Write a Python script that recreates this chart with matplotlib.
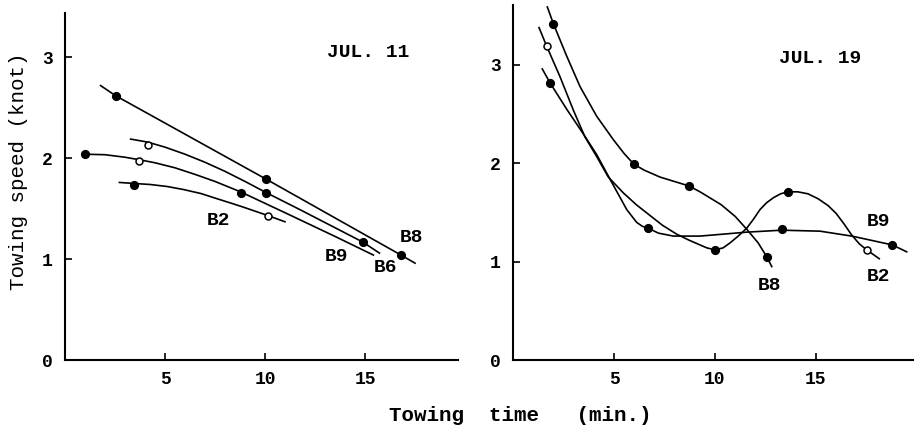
import matplotlib

matplotlib.use("Agg")
import matplotlib.pyplot as plt

plt.rcParams["font.family"] = ["Liberation Mono", "DejaVu Sans Mono"]
plt.rcParams["font.weight"] = "bold"

# ---- JUL. 11 (left panel) ----
# traced curve paths
jul11_b8_x = [1.78, 2.53, 10.08, 16.8, 17.5]
jul11_b8_y = [2.72, 2.62, 1.79, 1.04, 0.96]
jul11_b6_x = [3.28, 4.13, 5.0, 6.0, 7.0, 8.0, 9.0, 10.05, 11.75, 14.88, 15.72]
jul11_b6_y = [2.19, 2.16, 2.11, 2.04, 1.96, 1.87, 1.77, 1.66, 1.49, 1.17, 1.06]
jul11_b9_x = [1.0, 2.0, 3.0, 3.72, 4.5, 5.5, 6.5, 7.5, 8.8, 11.0, 13.5, 15.42]
jul11_b9_y = [2.04, 2.035, 2.01, 1.985, 1.955, 1.905, 1.84, 1.77, 1.665,
              1.46, 1.225, 1.04]
jul11_b2_x = [2.72, 3.45, 4.25, 5.1, 5.92, 6.8, 7.58, 8.3, 8.92, 10.17, 11.0]
jul11_b2_y = [1.76, 1.75, 1.74, 1.72, 1.69, 1.65, 1.60, 1.555, 1.515, 1.43,
              1.37]
# measured points
jul11_b8_px = [2.53, 10.05, 16.8]
jul11_b8_py = [2.62, 1.79, 1.04]
jul11_b8_open = [False, False, False]
jul11_b6_px = [4.13, 10.05, 14.88]
jul11_b6_py = [2.13, 1.66, 1.17]
jul11_b6_open = [True, False, False]
jul11_b9_px = [1.0, 3.72, 8.8]
jul11_b9_py = [2.04, 1.97, 1.66]
jul11_b9_open = [False, True, False]
jul11_b2_px = [3.45, 10.17]
jul11_b2_py = [1.73, 1.43]
jul11_b2_open = [False, True]

# ---- JUL. 19 (right panel) ----
jul19_b8_x = [1.70, 2.0, 2.66, 3.32, 4.14, 4.97, 5.5, 5.99, 6.5, 7.28, 8.71,
              9.26, 10.3, 11.0, 11.57, 12.14, 12.56, 12.81]
jul19_b8_y = [3.59, 3.42, 3.09, 2.78, 2.48, 2.24, 2.10, 1.99, 1.93, 1.86,
              1.77, 1.71, 1.58, 1.46, 1.33, 1.19, 1.05, 0.95]
jul19_b2_x = [1.29, 1.67, 2.33, 2.99, 3.56, 4.14, 4.72, 5.46, 6.1, 6.78, 7.4,
              8.10, 8.7, 9.26, 9.6, 10.0, 10.4, 10.74, 11.15, 11.57, 11.9,
              12.23, 12.56, 12.89, 13.25, 13.6, 14.1, 14.6, 15.1, 15.6, 16.0,
              16.4, 16.77, 17.15, 17.51, 18.13]
jul19_b2_y = [3.38, 3.19, 2.88, 2.54, 2.27, 2.07, 1.86, 1.70, 1.58, 1.47, 1.37,
              1.28, 1.22, 1.17, 1.14, 1.12, 1.14, 1.19, 1.26, 1.34, 1.43,
              1.53, 1.60, 1.65, 1.69, 1.71, 1.71, 1.69, 1.64, 1.57, 1.49,
              1.38, 1.27, 1.18, 1.12, 1.03]
jul19_b9_x = [1.45, 1.83, 2.66, 3.48, 4.14, 4.80, 5.63, 6.12, 6.4, 6.70, 7.2,
              7.94, 9.26, 11.57, 13.3, 15.2, 16.77, 17.67, 18.78, 19.49]
jul19_b9_y = [2.96, 2.82, 2.55, 2.30, 2.09, 1.84, 1.53, 1.40, 1.36, 1.34, 1.29,
              1.26, 1.26, 1.30, 1.32, 1.31, 1.26, 1.22, 1.17, 1.10]
jul19_b8_px = [2.0, 5.99, 8.71, 12.56]
jul19_b8_py = [3.42, 1.99, 1.77, 1.05]
jul19_b8_open = [False, False, False, False]
jul19_b2_px = [1.67, 10.0, 13.6, 17.51]
jul19_b2_py = [3.19, 1.12, 1.71, 1.12]
jul19_b2_open = [True, False, False, True]
jul19_b9_px = [1.83, 6.70, 13.3, 18.78]
jul19_b9_py = [2.82, 1.34, 1.33, 1.17]
jul19_b9_open = [False, False, False, False]

x_ticks = [5, 10, 15]
y_ticks = [0, 1, 2, 3]


def draw_series(ax, cx, cy, px, py, flags):
    ax.plot(cx, cy, color="black", linewidth=1.2, solid_joinstyle="round")
    for x, y, is_open in zip(px, py, flags):
        ax.plot([x], [y], marker="o", markersize=5.5 if not is_open else 5,
                markerfacecolor="white" if is_open else "black",
                markeredgecolor="black", markeredgewidth=1.1, zorder=5)


def style_axis(ax, xmax, ymax):
    ax.set_xlim(0, xmax)
    ax.set_ylim(0, ymax)
    for side in ("top", "right"):
        ax.spines[side].set_visible(False)
    for side in ("left", "bottom"):
        ax.spines[side].set_linewidth(1.5)
    ax.set_xticks(x_ticks)
    ax.set_yticks(y_ticks)
    ax.tick_params(direction="in", length=5, width=1.2, labelsize=13)
    ax.tick_params(axis="x", pad=8)
    ax.tick_params(axis="y", pad=9)


fig = plt.figure(figsize=(9.17, 4.37), dpi=100)
fig.patch.set_facecolor("white")

ax1 = fig.add_axes([0.0709, 0.1762, 0.4286, 0.7941])
draw_series(ax1, jul11_b8_x, jul11_b8_y, jul11_b8_px, jul11_b8_py, jul11_b8_open)
draw_series(ax1, jul11_b6_x, jul11_b6_y, jul11_b6_px, jul11_b6_py, jul11_b6_open)
draw_series(ax1, jul11_b9_x, jul11_b9_y, jul11_b9_px, jul11_b9_py, jul11_b9_open)
draw_series(ax1, jul11_b2_x, jul11_b2_y, jul11_b2_px, jul11_b2_py, jul11_b2_open)
style_axis(ax1, 19.65, 3.44)
ax1.set_ylabel("Towing speed (knot)", fontsize=15)
ax1.yaxis.set_label_coords(-0.094, 0.545)
ax1.text(15.13, 3.05, "JUL. 11", fontsize=14, ha="center", va="center")
ax1.text(7.67, 1.38, "B2", fontsize=14, ha="center", va="center")
ax1.text(13.58, 1.03, "B9", fontsize=14, ha="center", va="center")
ax1.text(16.0, 0.92, "B6", fontsize=14, ha="center", va="center")
ax1.text(17.33, 1.21, "B8", fontsize=14, ha="center", va="center")

ax2 = fig.add_axes([0.5594, 0.1762, 0.4362, 0.8124])
draw_series(ax2, jul19_b8_x, jul19_b8_y, jul19_b8_px, jul19_b8_py, jul19_b8_open)
draw_series(ax2, jul19_b2_x, jul19_b2_y, jul19_b2_px, jul19_b2_py, jul19_b2_open)
draw_series(ax2, jul19_b9_x, jul19_b9_y, jul19_b9_px, jul19_b9_py, jul19_b9_open)
style_axis(ax2, 19.8, 3.61)
ax2.text(15.2, 3.07, "JUL. 19", fontsize=14, ha="center", va="center")
ax2.text(18.08, 1.41, "B9", fontsize=14, ha="center", va="center")
ax2.text(18.08, 0.85, "B2", fontsize=14, ha="center", va="center")
ax2.text(12.72, 0.76, "B8", fontsize=14, ha="center", va="center")

fig.text(0.567, 0.05, "Towing  time   (min.)", fontsize=15,
         ha="center", va="center")

fig.savefig("out.png", dpi=100, facecolor="white")
plt.close(fig)
